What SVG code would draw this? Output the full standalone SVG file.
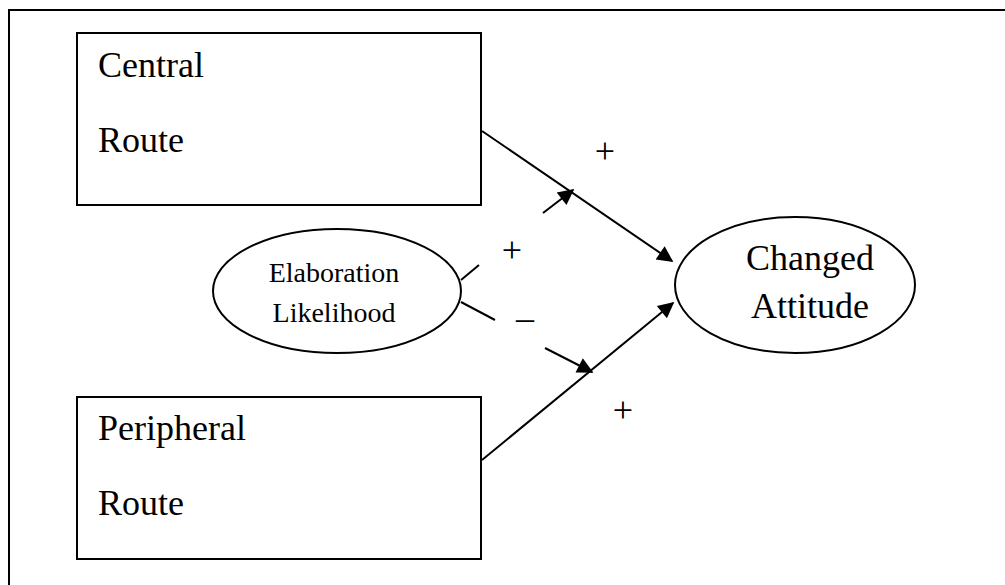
<svg xmlns="http://www.w3.org/2000/svg" width="1005" height="585" viewBox="0 0 1005 585">
<style>
.shape{fill:#fff;stroke:#000;stroke-width:2}
.line{fill:none;stroke:#000;stroke-width:2}
text{font-family:"Liberation Serif","Times New Roman",serif;fill:#000}
.big{font-size:36px}
.mid{font-size:28px}
</style>
<defs>
<marker id="ah" viewBox="0 0 10 10" refX="9" refY="5" markerWidth="9" markerHeight="8" markerUnits="strokeWidth" orient="auto">
<path d="M0,0 L10,5 L0,10 z" fill="#000"/>
</marker>
</defs>
<rect width="1005" height="585" fill="#fff"/>
<path class="line" d="M9,590 V10 H1010"/>
<g id="central">
<rect class="shape" x="77" y="33" width="404" height="172"/>
<text class="big" x="98" y="77">Central</text>
<text class="big" x="98" y="152">Route</text>
</g>
<g id="peripheral">
<rect class="shape" x="77" y="397" width="404" height="162"/>
<text class="big" x="98" y="440">Peripheral</text>
<text class="big" x="98" y="515">Route</text>
</g>
<g id="elaboration">
<ellipse class="shape" cx="337" cy="291" rx="124" ry="62"/>
<text class="mid" x="334" y="282" text-anchor="middle">Elaboration</text>
<text class="mid" x="334" y="322" text-anchor="middle">Likelihood</text>
</g>
<g id="changed">
<ellipse class="shape" cx="795" cy="285" rx="120" ry="68"/>
<text class="big" x="810" y="270" text-anchor="middle">Changed</text>
<text class="big" x="810" y="318" text-anchor="middle">Attitude</text>
</g>
<g id="connectors">
<line class="line" x1="482" y1="131" x2="672" y2="261" marker-end="url(#ah)"/>
<line class="line" x1="482" y1="460" x2="673" y2="303" marker-end="url(#ah)"/>
<line class="line" x1="461" y1="280" x2="479" y2="265"/>
<line class="line" x1="543" y1="213" x2="573" y2="190" marker-end="url(#ah)"/>
<line class="line" x1="461" y1="302" x2="495" y2="320"/>
<line class="line" x1="545" y1="348" x2="592" y2="372" marker-end="url(#ah)"/>
</g>
<g id="labels">
<text class="big" x="605" y="163" text-anchor="middle">+</text>
<text class="big" x="512" y="262" text-anchor="middle">+</text>
<text class="big" x="525" y="330" text-anchor="middle">–</text>
<text class="big" x="623" y="422" text-anchor="middle">+</text>
</g>
</svg>
